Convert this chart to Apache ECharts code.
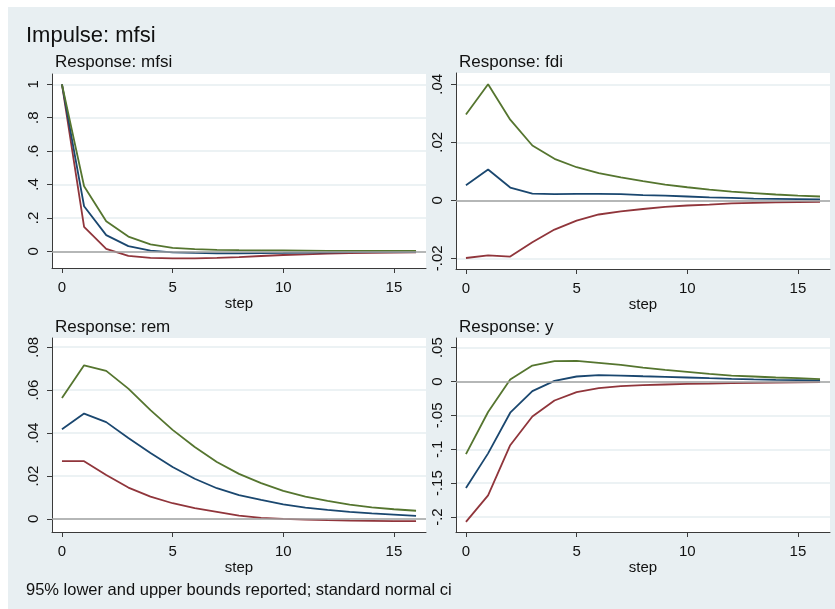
<!DOCTYPE html>
<html>
<head>
<meta charset="utf-8">
<script src="https://cdn.jsdelivr.net/npm/echarts@6/dist/echarts.min.js"></script>
<style>
  html, body { margin: 0; padding: 0; background: #ffffff; }
  #chart { width: 835px; height: 609px; }
</style>
</head>
<body>
<div id="chart"></div>
<script>
// Impulse-response functions for an mfsi shock, with 95% confidence bounds
const steps = [0, 1, 2, 3, 4, 5, 6, 7, 8, 9, 10, 11, 12, 13, 14, 15, 16];
const xTicks = [0, 5, 10, 15];

const mfsiIrf = [1, 0.27, 0.097, 0.031, 0.004, -0.006, -0.01, -0.012, -0.012, -0.011, -0.01, -0.008, -0.007, -0.005, -0.004, -0.003, -0.003];
const mfsiLo  = [1, 0.146, 0.015, -0.027, -0.039, -0.042, -0.042, -0.039, -0.035, -0.028, -0.022, -0.018, -0.014, -0.011, -0.009, -0.008, -0.007];
const mfsiHi  = [1, 0.39, 0.18, 0.088, 0.042, 0.021, 0.013, 0.009, 0.007, 0.006, 0.005, 0.004, 0.003, 0.003, 0.002, 0.002, 0.002];

const fdiIrf = [0.0052, 0.0106, 0.0044, 0.0023, 0.0021, 0.0022, 0.0022, 0.0021, 0.0018, 0.0016, 0.0013, 0.001, 0.0008, 0.0006, 0.0005, 0.0004, 0.0003];
const fdiLo  = [-0.0199, -0.019, -0.0194, -0.0145, -0.0101, -0.007, -0.0049, -0.0038, -0.003, -0.0023, -0.0018, -0.0015, -0.0011, -0.0009, -0.0007, -0.0006, -0.0005];
const fdiHi  = [0.0296, 0.040, 0.0278, 0.0189, 0.0143, 0.0114, 0.0094, 0.0079, 0.0066, 0.0054, 0.0045, 0.0037, 0.003, 0.0025, 0.002, 0.0016, 0.0013];

const remIrf = [0.0418, 0.0491, 0.0451, 0.0377, 0.0307, 0.0242, 0.0187, 0.0143, 0.0111, 0.0089, 0.0068, 0.0053, 0.0042, 0.0033, 0.0026, 0.002, 0.0014];
const remLo  = [0.0269, 0.0269, 0.0205, 0.0146, 0.0104, 0.0073, 0.005, 0.0033, 0.0015, 0.0005, 0.0, -0.0003, -0.0006, -0.0008, -0.0009, -0.001, -0.001];
const remHi  = [0.0563, 0.0716, 0.069, 0.0607, 0.0507, 0.0415, 0.0335, 0.0265, 0.021, 0.0167, 0.0131, 0.0104, 0.0084, 0.0067, 0.0054, 0.0045, 0.0038];

const yIrf = [-0.157, -0.106, -0.046, -0.0142, 0.001, 0.0074, 0.0093, 0.0088, 0.0078, 0.0069, 0.0059, 0.0049, 0.004, 0.0032, 0.0025, 0.002, 0.0015];
const yLo  = [-0.207, -0.168, -0.094, -0.0515, -0.028, -0.0157, -0.0098, -0.0069, -0.0054, -0.0044, -0.0034, -0.003, -0.0025, -0.002, -0.0016, -0.0013, -0.001];
const yHi  = [-0.107, -0.045, 0.003, 0.0235, 0.030, 0.0304, 0.0275, 0.0245, 0.0206, 0.0172, 0.0142, 0.0113, 0.0088, 0.0074, 0.0059, 0.0049, 0.0034];

const mfsiTicks = [0, 0.2, 0.4, 0.6, 0.8, 1];
const fdiTicks  = [-0.02, 0, 0.02, 0.04];
const remTicks  = [0, 0.02, 0.04, 0.06, 0.08];
const yTicks    = [-0.2, -0.15, -0.1, -0.05, 0, 0.05];

const panelTitles = ['Response: mfsi', 'Response: fdi', 'Response: rem', 'Response: y'];
const impulseTitle = 'Impulse: mfsi';
const noteText = '95% lower and upper bounds reported; standard normal ci';

const panels = [
  { irf: mfsiIrf, lo: mfsiLo, hi: mfsiHi, ticks: mfsiTicks },
  { irf: fdiIrf,  lo: fdiLo,  hi: fdiHi,  ticks: fdiTicks },
  { irf: remIrf,  lo: remLo,  hi: remHi,  ticks: remTicks },
  { irf: yIrf,    lo: yLo,    hi: yHi,    ticks: yTicks }
];

// plot-region geometry and value ranges for each panel
const layout = [
  { left: 52,  top: 74,  width: 374, height: 194, yMin: -0.1,    yMax: 1.062,  titleX: 55,  titleY: 62 },
  { left: 456, top: 73,  width: 374, height: 196, yMin: -0.0237, yMax: 0.0439, titleX: 459, titleY: 62 },
  { left: 52,  top: 338, width: 374, height: 194, yMin: -0.0061, yMax: 0.0843, titleX: 55,  titleY: 327 },
  { left: 456, top: 338, width: 374, height: 194, yMin: -0.222,  yMax: 0.0642, titleX: 459, titleY: 327 }
];

const COLORS = { irf: '#1a476f', lo: '#90353b', hi: '#55752f' };
const FONT = '"Liberation Sans", Arial, sans-serif';
const AXIS_COLOR = '#3a3a3a';
const GRID_COLOR = '#e6eef1';
const BG_COLOR = '#e8eff2';

// Stata-style numbers: drop the leading zero (".02", "-.15")
function fmt(v) {
  const s = String(parseFloat(Number(v).toFixed(4)));
  return s.replace(/^(-?)0\./, '$1.');
}

const grids = [], xAxes = [], yAxes = [], series = [];

panels.forEach((p, i) => {
  const L = layout[i];
  grids.push({
    left: L.left, top: L.top, width: L.width, height: L.height,
    show: true, backgroundColor: '#ffffff', borderWidth: 0
  });
  xAxes.push({
    gridIndex: i, type: 'value', min: -0.45, max: 16.45,
    name: 'step', nameLocation: 'middle', nameGap: 27,
    nameTextStyle: { fontFamily: FONT, fontSize: 15, color: '#111' },
    axisLine: { show: true, onZero: false, lineStyle: { color: AXIS_COLOR, width: 1 } },
    axisTick: { show: true, inside: false, length: 5, customValues: xTicks, lineStyle: { color: AXIS_COLOR } },
    axisLabel: { customValues: xTicks, margin: 12, fontFamily: FONT, fontSize: 15, color: '#111', formatter: fmt },
    splitLine: { show: false }
  });
  yAxes.push({
    gridIndex: i, type: 'value', min: L.yMin, max: L.yMax,
    axisLine: { show: true, onZero: false, lineStyle: { color: AXIS_COLOR, width: 1 } },
    axisTick: { show: true, inside: false, length: 5, customValues: p.ticks, lineStyle: { color: AXIS_COLOR } },
    axisLabel: { customValues: p.ticks, rotate: 90, margin: 11, fontFamily: FONT, fontSize: 15, color: '#111', formatter: fmt },
    splitLine: { show: true, lineStyle: { color: GRID_COLOR, width: 1.5 } }
  });

  // zero reference line
  series.push({
    type: 'line', xAxisIndex: i, yAxisIndex: i, data: [], z: 1,
    silent: true, animation: false,
    markLine: {
      silent: true, symbol: 'none', animation: false, label: { show: false },
      lineStyle: { color: '#a3a3a3', width: 1.5, type: 'solid' },
      data: [{ yAxis: 0 }]
    }
  });

  [['lo', p.lo], ['irf', p.irf], ['hi', p.hi]].forEach(([key, vals]) => {
    series.push({
      type: 'line', xAxisIndex: i, yAxisIndex: i, z: 3,
      data: steps.map((s, k) => [s, vals[k]]),
      symbol: 'none', animation: false, silent: true,
      lineStyle: { color: COLORS[key], width: 1.8 }
    });
  });
});

const graphics = [
  { type: 'rect', z: -10, shape: { x: 8, y: 7, width: 827, height: 602 }, style: { fill: BG_COLOR } },
  { type: 'text', x: 26, y: 36, style: { text: impulseTitle, font: '22px ' + FONT, fill: '#111', verticalAlign: 'middle' } },
  { type: 'text', x: 26, y: 590, style: { text: noteText, font: '16.5px ' + FONT, fill: '#111', verticalAlign: 'middle' } }
];
panelTitles.forEach((t, i) => {
  graphics.push({ type: 'text', x: layout[i].titleX, y: layout[i].titleY,
    style: { text: t, font: '17px ' + FONT, fill: '#111', verticalAlign: 'middle' } });
});

const chart = echarts.init(document.getElementById('chart'), null, { renderer: 'canvas' });
chart.setOption({
  animation: false,
  backgroundColor: '#ffffff',
  grid: grids,
  xAxis: xAxes,
  yAxis: yAxes,
  series: series,
  graphic: graphics
});
</script>
</body>
</html>
